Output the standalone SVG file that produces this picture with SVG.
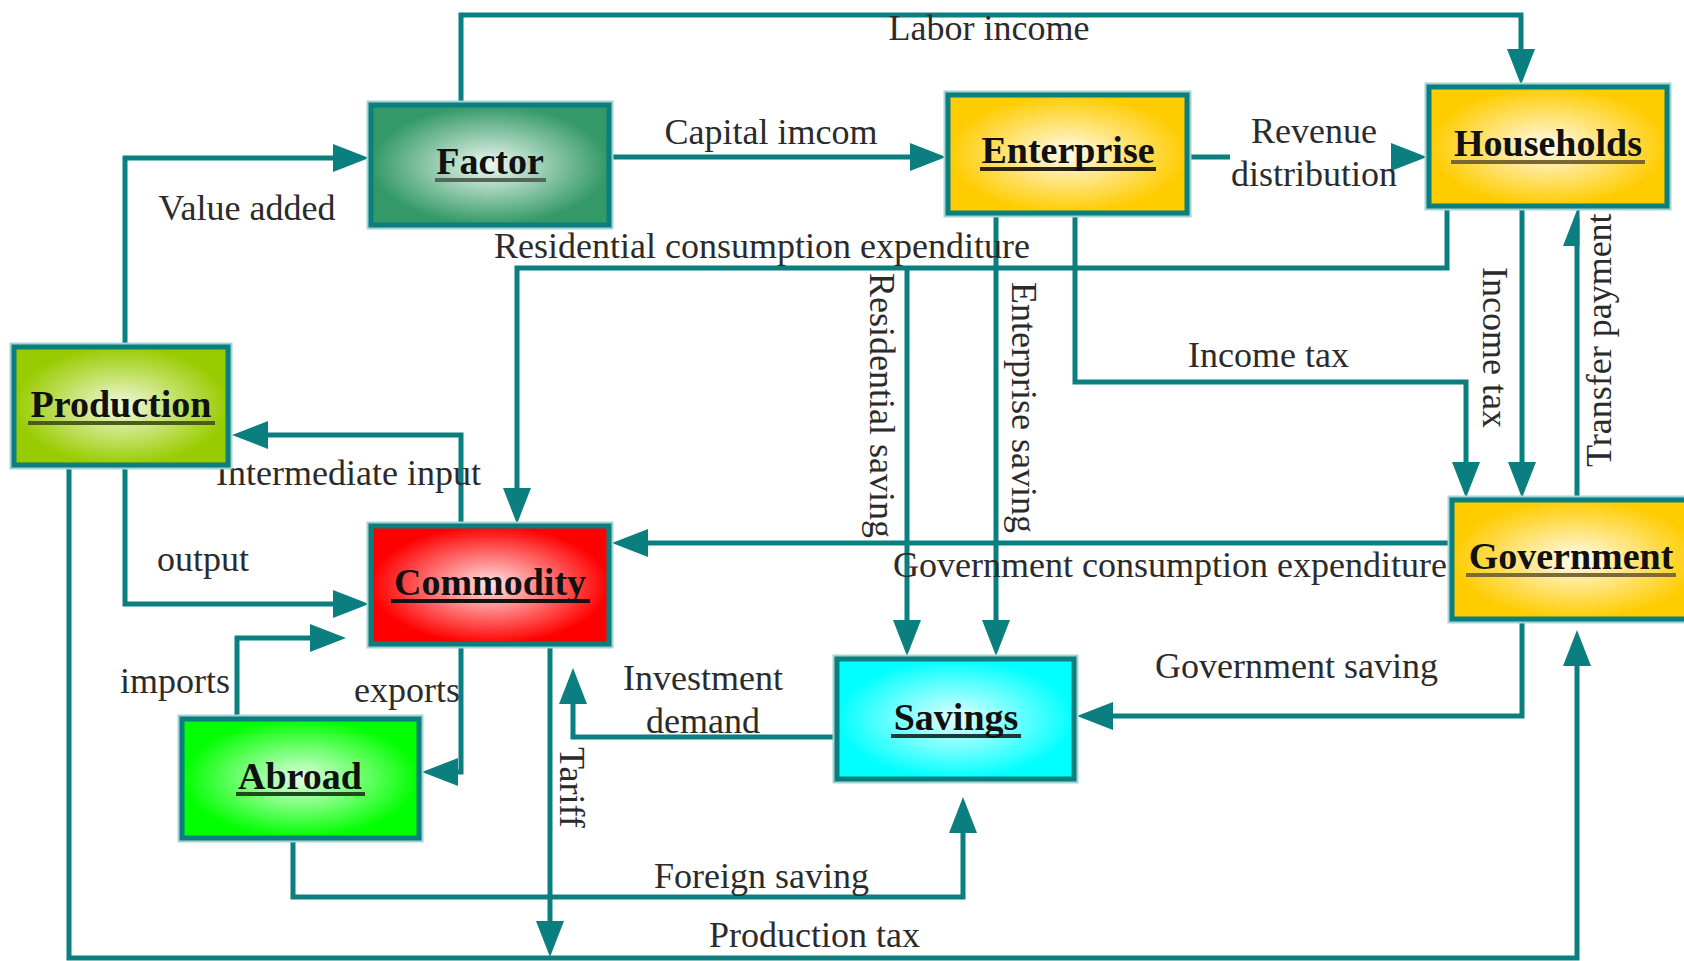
<svg xmlns="http://www.w3.org/2000/svg" width="1684" height="961" viewBox="0 0 1684 961">
<defs>
<style>
.bg{fill:#ffffff}
.halo{fill:none;stroke:#a6d3d3;stroke-width:9}
.box{stroke:#0b7f7f;stroke-width:5}
.conn{fill:none;stroke:#0b7f7f;stroke-width:5;stroke-linejoin:miter}
.arr{marker-end:url(#ah)}
.harr{marker-end:url(#ahHalf)}
.lbl{font-family:"Liberation Serif","Times New Roman",serif;font-size:36px;fill:#2b2b2b}
.mid{text-anchor:middle}
.title{font-family:"Liberation Serif","Times New Roman",serif;font-size:38px;font-weight:bold;fill:#111;text-anchor:middle}
.ul{stroke-width:4}
</style>
<marker id="ah" markerUnits="userSpaceOnUse" markerWidth="36" markerHeight="28" refX="28" refY="14" orient="auto">
<path d="M0,0 L36,14 L0,28 z" fill="#0b7f7f"/>
</marker>
<marker id="ahHalf" markerUnits="userSpaceOnUse" markerWidth="36" markerHeight="28" refX="28" refY="14" orient="auto">
<path d="M0,0 L36,14 L36,16.5 L0,16.5 z" fill="#0b7f7f"/>
</marker>
<radialGradient id="gFactor" cx="0.5" cy="0.5" r="0.5"><stop offset="0" stop-color="#eef8f2"/><stop offset="1" stop-color="#339966"/></radialGradient>
<radialGradient id="gYellow" cx="0.5" cy="0.5" r="0.5"><stop offset="0" stop-color="#fffbee"/><stop offset="1" stop-color="#ffcc00"/></radialGradient>
<radialGradient id="gProd" cx="0.5" cy="0.5" r="0.5"><stop offset="0" stop-color="#f3f9df"/><stop offset="1" stop-color="#99cc00"/></radialGradient>
<radialGradient id="gComm" cx="0.5" cy="0.5" r="0.5"><stop offset="0" stop-color="#ffe6e6"/><stop offset="1" stop-color="#ff0000"/></radialGradient>
<radialGradient id="gAbroad" cx="0.5" cy="0.5" r="0.5"><stop offset="0" stop-color="#e4ffe4"/><stop offset="1" stop-color="#00ff00"/></radialGradient>
<radialGradient id="gSav" cx="0.5" cy="0.5" r="0.5"><stop offset="0" stop-color="#e6ffff"/><stop offset="1" stop-color="#00ffff"/></radialGradient>
</defs>
<rect class="bg" x="0" y="0" width="1684" height="961"/>

<g id="connectors">
<path id="c-labor" class="conn arr" d="M461,103 V15 H1521 V77"/>
<path id="c-capital" class="conn arr" d="M609,157 H938"/>
<path id="c-revenue-a" class="conn" d="M1187,157 H1230"/>
<path id="c-revenue-b" class="conn arr" d="M1399,157 H1419"/>
<path id="c-value" class="conn arr" d="M125,345 V158 H361"/>
<path id="c-rescons" class="conn arr" d="M1447,206 V268 H517 V516"/>
<path id="c-ressav" class="conn arr" d="M907,268 V648"/>
<path id="c-entsav" class="conn arr" d="M996,213 V648"/>
<path id="c-enttax" class="conn arr" d="M1075,213 V382 H1466 V490"/>
<path id="c-hhtax" class="conn arr" d="M1522,206 V490"/>
<path id="c-transfer" class="conn harr" d="M1577,500 V218"/>
<path id="c-govcons" class="conn arr" d="M1452,543 H620"/>
<path id="c-govsav" class="conn arr" d="M1522,619 V716 H1085"/>
<path id="c-invest" class="conn arr" d="M837,737 H573 V676"/>
<path id="c-tariff" class="conn arr" d="M550,644 V949"/>
<path id="c-exports" class="conn arr" d="M461,644 V772 H430"/>
<path id="c-imports" class="conn arr" d="M237,719 V638 H338"/>
<path id="c-output" class="conn arr" d="M125,465 V604 H361"/>
<path id="c-interm" class="conn arr" d="M461,526 V435 H240"/>
<path id="c-foreign" class="conn arr" d="M293,838 V897 H963 V805"/>
<path id="c-prodtax" class="conn arr" d="M69,465 V958 H1577 V638"/>
</g>

<g id="connector-labels">
<text class="lbl mid" x="989" y="40">Labor income</text>
<text class="lbl mid" x="771" y="144">Capital imcom</text>
<text class="lbl mid" x="1314" y="143">Revenue</text>
<text class="lbl mid" x="1314" y="186">distribution</text>
<text class="lbl mid" x="247" y="220">Value added</text>
<text class="lbl mid" x="762" y="258">Residential consumption expenditure</text>
<text class="lbl" transform="translate(870,273) rotate(90)">Residential saving</text>
<text class="lbl" transform="translate(1012,282) rotate(90)">Enterprise saving</text>
<text class="lbl" x="1188" y="367">Income tax</text>
<text class="lbl" transform="translate(1483,267) rotate(90)">Income tax</text>
<text class="lbl" transform="translate(1611,467) rotate(-90)">Transfer payment</text>
<text class="lbl" x="893" y="577">Government consumption expenditure</text>
<text class="lbl" x="1155" y="678">Government saving</text>
<text class="lbl mid" x="703" y="690">Investment</text>
<text class="lbl mid" x="703" y="733">demand</text>
<text class="lbl" transform="translate(560,747) rotate(90)">Tariff</text>
<text class="lbl" x="354" y="702">exports</text>
<text class="lbl" x="120" y="693">imports</text>
<text class="lbl" x="157" y="571">output</text>
<text class="lbl" x="216" y="485">Intermediate input</text>
<text class="lbl" x="654" y="888">Foreign saving</text>
<text class="lbl" x="709" y="947">Production tax</text>
</g>

<g id="node-factor">
<rect class="halo" x="371" y="105" width="238" height="120"/>
<rect class="box" x="371" y="105" width="238" height="120" fill="url(#gFactor)"/>
<line class="ul" x1="435" y1="180" x2="546" y2="180" stroke="#56665c"/>
<text class="title" x="490" y="174">Factor</text>
</g>
<g id="node-enterprise">
<rect class="halo" x="948" y="95" width="239" height="118"/>
<rect class="box" x="948" y="95" width="239" height="118" fill="url(#gYellow)"/>
<line class="ul" x1="980" y1="169" x2="1156" y2="169" stroke="#2a2410"/>
<text class="title" x="1068" y="163">Enterprise</text>
</g>
<g id="node-households">
<rect class="halo" x="1429" y="87" width="238" height="119"/>
<rect class="box" x="1429" y="87" width="238" height="119" fill="url(#gYellow)"/>
<line class="ul" x1="1451" y1="162" x2="1645" y2="162" stroke="#7a6630"/>
<text class="title" x="1548" y="156">Households</text>
</g>
<g id="node-production">
<rect class="halo" x="14" y="347" width="214" height="118"/>
<rect class="box" x="14" y="347" width="214" height="118" fill="url(#gProd)"/>
<line class="ul" x1="28" y1="423" x2="215" y2="423" stroke="#4e5a18"/>
<text class="title" x="121" y="417">Production</text>
</g>
<g id="node-commodity">
<rect class="halo" x="371" y="526" width="238" height="118"/>
<rect class="box" x="371" y="526" width="238" height="118" fill="url(#gComm)"/>
<line class="ul" x1="391" y1="601" x2="590" y2="601" stroke="#111"/>
<text class="title" x="490" y="595">Commodity</text>
</g>
<g id="node-abroad">
<rect class="halo" x="182" y="719" width="237" height="119"/>
<rect class="box" x="182" y="719" width="237" height="119" fill="url(#gAbroad)"/>
<line class="ul" x1="236" y1="794" x2="365" y2="794" stroke="#1e4a1e"/>
<text class="title" x="300" y="789">Abroad</text>
</g>
<g id="node-savings">
<rect class="halo" x="837" y="659" width="237" height="120"/>
<rect class="box" x="837" y="659" width="237" height="120" fill="url(#gSav)"/>
<line class="ul" x1="891" y1="736" x2="1021" y2="736" stroke="#1c3a3a"/>
<text class="title" x="956" y="730">Savings</text>
</g>
<g id="node-government">
<rect class="halo" x="1452" y="500" width="248" height="119"/>
<rect class="box" x="1452" y="500" width="248" height="119" fill="url(#gYellow)"/>
<line class="ul" x1="1466" y1="575" x2="1676" y2="575" stroke="#7a6a3c"/>
<text class="title" x="1571" y="569">Government</text>
</g>
</svg>
